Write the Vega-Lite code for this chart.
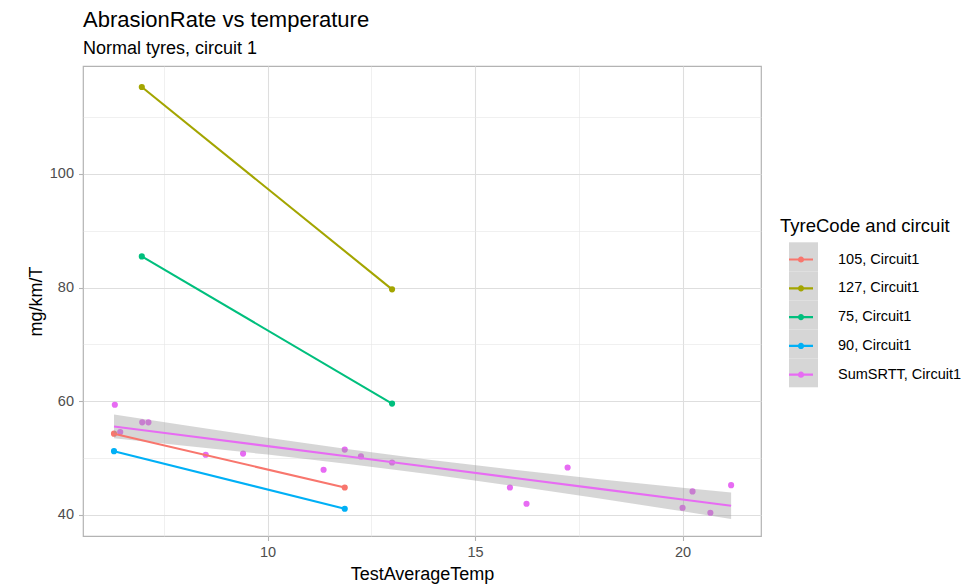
{
  "$schema": "https://vega.github.io/schema/vega-lite/v6.json",
  "autosize": {"type": "none"},
  "width": 678,
  "height": 470,
  "padding": {"left": 83, "top": 66, "right": 219, "bottom": 49},
  "background": "white",
  "title": {
    "text": "AbrasionRate vs temperature",
    "subtitle": "Normal tyres, circuit 1",
    "anchor": "start",
    "frame": "group",
    "font": "Liberation Sans",
    "fontSize": 22,
    "fontWeight": "normal",
    "color": "black",
    "subtitleFont": "Liberation Sans",
    "subtitleFontSize": 18,
    "subtitleColor": "black",
    "subtitlePadding": 8,
    "offset": 7
  },
  "config": {
    "view": {"stroke": "#B3B3B3", "strokeWidth": 1.2},
    "font": "Liberation Sans",
    "axis": {
      "domain": false,
      "labelFont": "Liberation Sans",
      "labelFontSize": 14.5,
      "labelColor": "#4D4D4D",
      "titleFont": "Liberation Sans",
      "titleFontSize": 18,
      "titleFontWeight": "normal",
      "titleColor": "black",
      "tickColor": "#B3B3B3",
      "tickSize": 4.5,
      "tickWidth": 1.1,
      "gridColor": "#DEDEDE"
    }
  },
  "datasets": {
    "obs": [
      {"series": "105, Circuit1", "code": "105", "temp": 6.30, "rate": 54.3},
      {"series": "105, Circuit1", "code": "105", "temp": 11.86, "rate": 44.84},
      {"series": "127, Circuit1", "code": "127", "temp": 6.97, "rate": 115.3},
      {"series": "127, Circuit1", "code": "127", "temp": 13.0, "rate": 79.7},
      {"series": "75, Circuit1", "code": "75", "temp": 6.97, "rate": 85.5},
      {"series": "75, Circuit1", "code": "75", "temp": 13.0, "rate": 59.6},
      {"series": "90, Circuit1", "code": "90", "temp": 6.30, "rate": 51.23},
      {"series": "90, Circuit1", "code": "90", "temp": 11.86, "rate": 41.09},
      {"series": "SumSRTT, Circuit1", "code": "SumSRTT", "temp": 6.32, "rate": 59.4},
      {"series": "SumSRTT, Circuit1", "code": "SumSRTT", "temp": 6.98, "rate": 56.3},
      {"series": "SumSRTT, Circuit1", "code": "SumSRTT", "temp": 7.13, "rate": 56.3},
      {"series": "SumSRTT, Circuit1", "code": "SumSRTT", "temp": 6.45, "rate": 54.6},
      {"series": "SumSRTT, Circuit1", "code": "SumSRTT", "temp": 8.51, "rate": 50.6},
      {"series": "SumSRTT, Circuit1", "code": "SumSRTT", "temp": 9.41, "rate": 50.8},
      {"series": "SumSRTT, Circuit1", "code": "SumSRTT", "temp": 11.35, "rate": 47.96},
      {"series": "SumSRTT, Circuit1", "code": "SumSRTT", "temp": 11.86, "rate": 51.5},
      {"series": "SumSRTT, Circuit1", "code": "SumSRTT", "temp": 12.25, "rate": 50.3},
      {"series": "SumSRTT, Circuit1", "code": "SumSRTT", "temp": 13.0, "rate": 49.24},
      {"series": "SumSRTT, Circuit1", "code": "SumSRTT", "temp": 15.84, "rate": 44.84},
      {"series": "SumSRTT, Circuit1", "code": "SumSRTT", "temp": 16.24, "rate": 41.97},
      {"series": "SumSRTT, Circuit1", "code": "SumSRTT", "temp": 17.23, "rate": 48.36},
      {"series": "SumSRTT, Circuit1", "code": "SumSRTT", "temp": 20.0, "rate": 41.27},
      {"series": "SumSRTT, Circuit1", "code": "SumSRTT", "temp": 20.24, "rate": 44.14},
      {"series": "SumSRTT, Circuit1", "code": "SumSRTT", "temp": 20.67, "rate": 40.39},
      {"series": "SumSRTT, Circuit1", "code": "SumSRTT", "temp": 21.17, "rate": 45.25}
    ],
    "fit": [
      {"series": "SumSRTT, Circuit1", "temp": 6.30, "fit": 55.58, "lo": 53.48, "hi": 57.68},
      {"series": "SumSRTT, Circuit1", "temp": 8.0, "fit": 53.98, "lo": 52.19, "hi": 55.77},
      {"series": "SumSRTT, Circuit1", "temp": 10.0, "fit": 52.11, "lo": 50.62, "hi": 53.60},
      {"series": "SumSRTT, Circuit1", "temp": 12.0, "fit": 50.23, "lo": 48.93, "hi": 51.53},
      {"series": "SumSRTT, Circuit1", "temp": 13.2, "fit": 49.10, "lo": 47.84, "hi": 50.36},
      {"series": "SumSRTT, Circuit1", "temp": 14.0, "fit": 48.35, "lo": 47.08, "hi": 49.62},
      {"series": "SumSRTT, Circuit1", "temp": 16.0, "fit": 46.47, "lo": 45.04, "hi": 47.90},
      {"series": "SumSRTT, Circuit1", "temp": 18.0, "fit": 44.59, "lo": 42.88, "hi": 46.30},
      {"series": "SumSRTT, Circuit1", "temp": 20.0, "fit": 42.72, "lo": 40.65, "hi": 44.79},
      {"series": "SumSRTT, Circuit1", "temp": 21.17, "fit": 41.62, "lo": 39.29, "hi": 43.95}
    ]
  },
  "encoding": {
    "x": {
      "field": "temp",
      "type": "quantitative",
      "title": "TestAverageTemp",
      "scale": {"domain": [5.553, 21.89], "nice": false, "zero": false},
      "axis": {
        "values": [7.5, 10, 12.5, 15, 17.5, 20],
        "labelExpr": "datum.value % 5 === 0 ? datum.label : ''",
        "tickOpacity": {"condition": {"test": "datum.value % 5 !== 0", "value": 0}, "value": 1},
        "gridWidth": {"condition": {"test": "datum.value % 5 !== 0", "value": 0.6}, "value": 1.1},
        "gridColor": {"condition": {"test": "datum.value % 5 !== 0", "value": "#E6E6E6"}, "value": "#DEDEDE"},
        "labelPadding": 5,
        "titlePadding": 6
      }
    }
  },
  "layer": [
    {
      "data": {"name": "obs"},
      "mark": {"type": "point", "filled": true, "opacity": 0, "color": "#D6D6D6"},
      "encoding": {
        "y": {"field": "rate", "type": "quantitative"},
        "shape": {
          "field": "code",
          "type": "nominal",
          "scale": {"range": ["square", "square", "square", "square", "square"]},
          "legend": {
            "title": null,
            "orient": "none",
            "legendX": 706,
            "legendY": 176.3,
            "padding": 0,
            "zindex": 0,
            "labelExpr": "''",
            "labelOffset": 0,
            "labelFontSize": 1,
            "symbolSize": 841,
            "symbolOpacity": 1,
            "symbolFillColor": "#D6D6D6",
            "symbolStrokeColor": "transparent",
            "symbolStrokeWidth": 0,
            "rowPadding": 0
          }
        }
      }
    },
    {
      "data": {"name": "obs"},
      "mark": {"type": "point", "filled": true, "opacity": 1, "size": 38},
      "encoding": {
        "y": {
          "field": "rate",
          "type": "quantitative",
          "title": "mg/km/T",
          "scale": {"domain": [36.3, 119.0], "nice": false, "zero": false},
          "axis": {
            "values": [40, 50, 60, 70, 80, 90, 100, 110],
            "labelExpr": "datum.value % 20 === 0 ? datum.label : ''",
            "tickOpacity": {"condition": {"test": "datum.value % 20 !== 0", "value": 0}, "value": 1},
            "gridWidth": {"condition": {"test": "datum.value % 20 !== 0", "value": 0.6}, "value": 1.1},
            "gridColor": {"condition": {"test": "datum.value % 20 !== 0", "value": "#E6E6E6"}, "value": "#DEDEDE"},
            "labelPadding": 5,
            "titlePadding": 4
          }
        },
        "color": {
          "field": "series",
          "type": "nominal",
          "scale": {
            "domain": ["105, Circuit1", "127, Circuit1", "75, Circuit1", "90, Circuit1", "SumSRTT, Circuit1"],
            "range": ["#F8766D", "#A3A500", "#00BF7D", "#00B0F6", "#E76BF3"]
          },
          "legend": {
            "title": "TyreCode and circuit",
            "orient": "none",
            "legendX": 697,
            "legendY": 151,
            "padding": 0,
            "zindex": 2,
            "titleFont": "Liberation Sans",
            "titleFontSize": 18.5,
            "titleFontWeight": "normal",
            "titleColor": "black",
            "titlePadding": 12,
            "labelFont": "Liberation Sans",
            "labelFontSize": 14.5,
            "labelColor": "black",
            "labelOffset": 25,
            "symbolOffset": 9,
            "symbolType": "M-1,-0.09L1,-0.09L1,0.09L-1,0.09Z M0.26,0A0.26,0.26,0,1,1,-0.26,0A0.26,0.26,0,1,1,0.26,0Z",
            "symbolSize": 576,
            "symbolStrokeWidth": 0,
            "rowPadding": 9.8,
            "encode": {
              "symbols": {"update": {"fill": {"scale": "color", "field": "value"}, "opacity": {"value": 1}, "strokeWidth": {"value": 0}}}
            }
          }
        }
      }
    },
    {
      "data": {"name": "fit"},
      "mark": {"type": "area", "color": "#999999", "opacity": 0.4},
      "encoding": {
        "y": {"field": "lo", "type": "quantitative"},
        "y2": {"field": "hi"}
      }
    },
    {
      "data": {"name": "fit"},
      "mark": {"type": "line", "strokeWidth": 2.1},
      "encoding": {
        "y": {"field": "fit", "type": "quantitative"},
        "color": {"field": "series", "type": "nominal"}
      }
    },
    {
      "data": {"name": "obs"},
      "transform": [{"filter": "datum.series !== 'SumSRTT, Circuit1'"}],
      "mark": {"type": "line", "strokeWidth": 2.1},
      "encoding": {
        "y": {"field": "rate", "type": "quantitative"},
        "color": {"field": "series", "type": "nominal"},
        "detail": {"field": "series"}
      }
    }
  ]
}
